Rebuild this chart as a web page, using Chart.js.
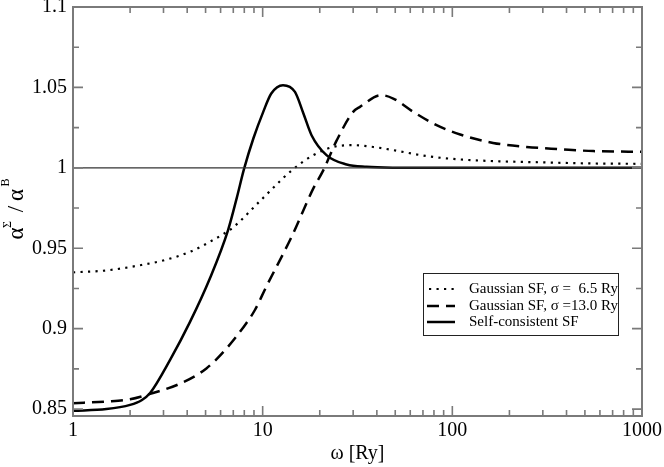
<!DOCTYPE html>
<html>
<head>
<meta charset="utf-8">
<script src="https://cdn.jsdelivr.net/npm/chart.js@4/dist/chart.umd.min.js"></script>
<style>
html,body{margin:0;padding:0;background:#fff;}
#wrap{width:664px;height:467px;position:relative;}
</style>
</head>
<body>
<div id="wrap"><canvas id="c" width="664" height="467"></canvas></div>
<script>
// ---- data ----
const omegaSC = [1, 1.5, 2, 2.3, 2.55, 3.25, 4.14, 5.28, 6.57, 7.32, 7.97, 8.94, 10.07, 11.1, 12.8, 14.8, 16.4, 18.1, 21.7, 27.7, 35.3, 50, 100, 1000];
const alphaSC = [0.8489, 0.8500, 0.8526, 0.8555, 0.8600, 0.8806, 0.9042, 0.9315, 0.9613, 0.9818, 0.9992, 1.0184, 1.0348, 1.0462, 1.0514, 1.0472, 1.0338, 1.0203, 1.0079, 1.0021, 1.0006, 1.0001, 1.0, 1.0];

const omega65 = [1, 1.5, 2.25, 2.99, 4.14, 5.47, 6.97, 9.67, 14.2, 18.5, 23.6, 30, 39.9, 48.8, 73.2, 110, 164, 302, 554, 1000];
const alpha65 = [0.935, 0.9362, 0.9394, 0.9424, 0.9478, 0.9551, 0.9629, 0.9793, 0.9983, 1.0079, 1.013, 1.0141, 1.0127, 1.011, 1.0073, 1.0052, 1.0042, 1.0034, 1.0027, 1.0025];

const omega130 = [1, 1.5, 2, 2.64, 3.65, 5.05, 6.46, 8.2, 9.1, 10.45, 14.2, 18.5, 20.9, 24.6, 30, 32.6, 42, 48.8, 62.2, 82.6, 110, 164, 246, 370, 554, 1000];
const alpha130 = [0.8537, 0.8547, 0.8561, 0.860, 0.8657, 0.8753, 0.8878, 0.9034, 0.9116, 0.9261, 0.9571, 0.9872, 0.9986, 1.0172, 1.0348, 1.0379, 1.0452, 1.0431, 1.0348, 1.0265, 1.0207, 1.0155, 1.013, 1.0116, 1.0104, 1.01];

const refOmega = [1, 1000];
const refAlpha = [1, 1];

const xTicks = [1, 10, 100, 1000];
const xTickLabels = ['1', '10', '100', '1000'];
const yTicks = [0.85, 0.9, 0.95, 1, 1.05, 1.1];
const yTickLabels = ['0.85', '0.9', '0.95', '1', '1.05', '1.1'];
const yMinorTicks = [0.875, 0.925, 0.975, 1.025, 1.075];

const seriesNames = ['Gaussian SF, \u03c3 =  6.5 Ry', 'Gaussian SF, \u03c3 =13.0 Ry', 'Self-consistent SF'];

const pts = (xs, ys) => xs.map((x, i) => ({x: x, y: ys[i]}));
const SERIF = '"Liberation Serif", "DejaVu Serif", serif';

const dashes = [[2.2, 5.3], [12, 7], []];

const frameTicks = {
  id: 'frameTicks',
  afterDatasetsDraw(chart) {
    const ctx = chart.ctx, a = chart.chartArea;
    const xs = chart.scales.x, ys = chart.scales.y;
    ctx.save();
    ctx.strokeStyle = '#7a7a7a';
    ctx.lineWidth = 1.6;
    const maj = 10, min = 6;
    const xMinor = [];
    [1, 10, 100].forEach(d => { for (let k = 2; k <= 9; k++) xMinor.push(d * k); });
    ctx.beginPath();
    xTicks.forEach(v => { const p = xs.getPixelForValue(v);
      ctx.moveTo(p, a.bottom); ctx.lineTo(p, a.bottom - maj);
      ctx.moveTo(p, a.top); ctx.lineTo(p, a.top + maj); });
    xMinor.forEach(v => { const p = xs.getPixelForValue(v);
      ctx.moveTo(p, a.bottom); ctx.lineTo(p, a.bottom - min);
      ctx.moveTo(p, a.top); ctx.lineTo(p, a.top + min); });
    yTicks.forEach(v => { const p = ys.getPixelForValue(v);
      ctx.moveTo(a.left, p); ctx.lineTo(a.left + maj, p);
      ctx.moveTo(a.right, p); ctx.lineTo(a.right - maj, p); });
    yMinorTicks.forEach(v => { const p = ys.getPixelForValue(v);
      ctx.moveTo(a.left, p); ctx.lineTo(a.left + min, p);
      ctx.moveTo(a.right, p); ctx.lineTo(a.right - min, p); });
    ctx.stroke();
    ctx.lineWidth = 2;
    ctx.strokeRect(a.left, a.top, a.right - a.left, a.bottom - a.top);
    ctx.restore();

    // legend
    ctx.save();
    const bx = 423.5, by = 273.5, bw = 195, bh = 62;
    ctx.fillStyle = '#fff';
    ctx.fillRect(bx, by, bw, bh);
    ctx.strokeStyle = '#222';
    ctx.lineWidth = 1;
    ctx.strokeRect(bx, by, bw, bh);
    const rows = [289, 306, 322];
    ctx.font = '15px ' + SERIF;
    ctx.textBaseline = 'middle';
    ctx.fillStyle = '#000';
    rows.forEach((ry, i) => {
      ctx.beginPath();
      ctx.setLineDash(dashes[i]);
      ctx.lineWidth = i === 0 ? 2.2 : 2.5;
      ctx.strokeStyle = '#000';
      ctx.moveTo(i === 0 ? 429 : 427, ry);
      ctx.lineTo(455, ry);
      ctx.stroke();
      ctx.setLineDash([]);
      ctx.fillText(seriesNames[i], 469, ry);
    });
    ctx.restore();

    // y-axis title: alpha^Sigma / alpha^B (rotated)
    ctx.save();
    ctx.rotate(-Math.PI / 2);
    ctx.fillStyle = '#000';
    ctx.textBaseline = 'alphabetic';
    ctx.textAlign = 'center';
    const big = '23px ' + SERIF, small = '12px ' + SERIF;
    const parts = [['\u03b1', big, 233.5, 23], ['\u03a3', small, 224.5, 11], ['/', big, 209, 23], ['\u03b1', big, 195, 23], ['B', small, 182.5, 9]];
    parts.forEach(p => { ctx.font = p[1]; ctx.fillText(p[0], -p[2], p[3]); });
    ctx.restore();
  }
};

new Chart(document.getElementById('c'), {
  type: 'line',
  data: {
    datasets: [
      { label: 'ref', data: pts(refOmega, refAlpha), borderColor: '#333', borderWidth: 1.2, pointRadius: 0 },
      { label: seriesNames[0], data: pts(omega65, alpha65), borderColor: '#000', borderWidth: 2.2, borderDash: dashes[0], pointRadius: 0, cubicInterpolationMode: 'monotone' },
      { label: seriesNames[1], data: pts(omega130, alpha130), borderColor: '#000', borderWidth: 2.5, borderDash: dashes[1], pointRadius: 0, cubicInterpolationMode: 'monotone' },
      { label: seriesNames[2], data: pts(omegaSC, alphaSC), borderColor: '#000', borderWidth: 2.5, pointRadius: 0, cubicInterpolationMode: 'monotone' }
    ]
  },
  options: {
    responsive: false,
    animation: false,
    devicePixelRatio: 1,
    layout: { padding: { left: 0, right: 22, top: 7, bottom: 0 } },
    plugins: { legend: { display: false }, tooltip: { enabled: false } },
    scales: {
      x: {
        type: 'logarithmic', min: 1, max: 1000,
        grid: { display: false, drawTicks: false },
        border: { display: false },
        afterBuildTicks: s => { s.ticks = xTicks.map(v => ({ value: v })); },
        afterFit: s => { s.height = 51; s.paddingLeft = 0; s.paddingRight = 0; },
        ticks: {
          autoSkip: false, maxRotation: 0, padding: 3, color: '#000',
          font: { family: SERIF, size: 20 },
          callback: (v) => { const i = xTicks.indexOf(v); return i >= 0 ? xTickLabels[i] : ''; }
        },
        title: { display: true, text: '\u03c9 [Ry]', color: '#000', font: { family: SERIF, size: 20 }, padding: { top: 0, bottom: 1 } }
      },
      y: {
        type: 'linear', min: 0.8457, max: 1.1,
        grid: { display: false, drawTicks: false },
        border: { display: false },
        afterBuildTicks: s => { s.ticks = yTicks.map(v => ({ value: v })); },
        afterFit: s => { s.width = 73; s.paddingTop = 0; s.paddingBottom = 0; },
        ticks: {
          autoSkip: false, padding: 6, color: '#000',
          font: { family: SERIF, size: 20 },
          callback: (v) => { const i = yTicks.findIndex(t => Math.abs(t - v) < 1e-9); return i >= 0 ? yTickLabels[i] : ''; }
        }
      }
    }
  },
  plugins: [frameTicks]
});
</script>
</body>
</html>
